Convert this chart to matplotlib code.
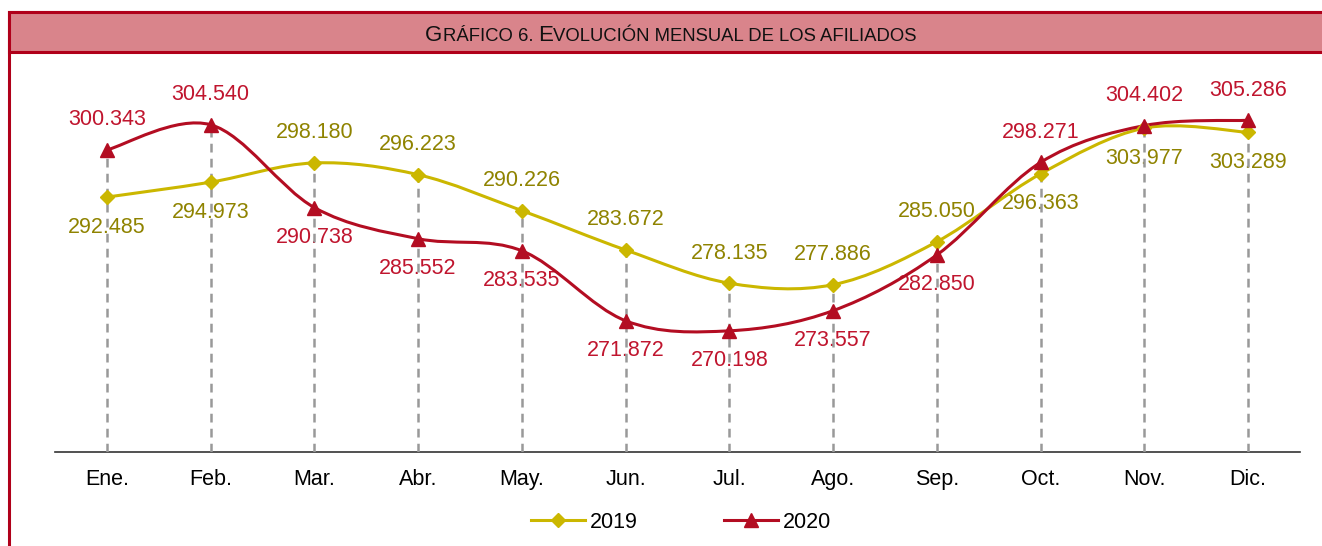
import numpy as np
import matplotlib
matplotlib.use("Agg")
import matplotlib.pyplot as plt
from matplotlib.path import Path
from matplotlib.patches import PathPatch, Rectangle
from matplotlib.lines import Line2D

plt.rcParams['font.family'] = ['Liberation Sans', 'DejaVu Sans']

# data
months = ["Ene.", "Feb.", "Mar.", "Abr.", "May.", "Jun.", "Jul.", "Ago.",
          "Sep.", "Oct.", "Nov.", "Dic."]
afil_2019 = [292485, 294973, 298180, 296223, 290226, 283672, 278135, 277886,
             285050, 296363, 303977, 303289]
afil_2020 = [300343, 304540, 290738, 285552, 283535, 271872, 270198, 273557,
             282850, 298271, 304402, 305286]
# label above (+1) or below (-1) the point
side_2019 = [-1, -1, 1, 1, 1, 1, 1, 1, 1, -1, -1, -1]
side_2020 = [1, 1, -1, -1, -1, -1, -1, -1, -1, 1, 1, 1]

c19 = "#CBB700"
c19_txt = "#8F8300"
c20 = "#B30D22"
c20_txt = "#C0152E"
frame_red = "#B0001A"
fs = 15.5


def fmt(v):
    return f"{v:,}".replace(",", ".")


def smooth_path(x, y, t=1 / 6):
    # Catmull-Rom style bezier, like the smoothed lines in Excel
    x = np.asarray(x, float)
    y = np.asarray(y, float)
    verts = [(x[0], y[0])]
    codes = [Path.MOVETO]
    n = len(x)
    for i in range(n - 1):
        p0 = i - 1 if i > 0 else i
        p3 = i + 2 if i + 2 < n else i + 1
        c1 = (x[i] + (x[i + 1] - x[p0]) * t, y[i] + (y[i + 1] - y[p0]) * t)
        c2 = (x[i + 1] - (x[p3] - x[i]) * t, y[i + 1] - (y[p3] - y[i]) * t)
        verts += [c1, c2, (x[i + 1], y[i + 1])]
        codes += [Path.CURVE4] * 3
    return Path(verts, codes)


W, H = 1322, 546
fig = plt.figure(figsize=(W / 100, H / 100), dpi=100)
ax = fig.add_axes([55 / W, 1 - 452 / H, (1300 - 55) / W, (452 - 92) / H])

xs = np.arange(len(months))

# drop lines
top = np.maximum(afil_2019, afil_2020)
ax.vlines(xs, 250000, top, colors="#999999", linestyles=(0, (3.5, 2.5)),
          linewidth=1.8, zorder=4)

for vals, col, mk, ms in [(afil_2019, c19, "D", 7), (afil_2020, c20, "^", 10)]:
    ax.add_patch(PathPatch(smooth_path(xs, vals), facecolor="none",
                           edgecolor=col, linewidth=2.2, zorder=5))
    ax.plot(xs, vals, linestyle="none", marker=mk, markersize=ms,
            color=col, zorder=6)

for vals, side, col in [(afil_2019, side_2019, c19_txt), (afil_2020, side_2020, c20_txt)]:
    for i, v in enumerate(vals):
        ax.annotate(fmt(v), (i, v), xytext=(0, 30 * side[i]), textcoords="offset pixels",
                    ha="center", va="center", fontsize=fs, color=col, zorder=3)

ax.set_xlim(-0.5, 11.5)
ax.set_ylim(250000, 310000)
ax.set_xticks(xs)
ax.set_xticklabels(months, fontsize=fs)
ax.tick_params(axis="x", length=0, pad=12)
ax.set_yticks([])
for s in ["top", "right", "left"]:
    ax.spines[s].set_visible(False)
ax.spines["bottom"].set_color("#333333")
ax.spines["bottom"].set_linewidth(1.2)

handles = [Line2D([], [], color=c19, marker="D", markersize=7, linewidth=2.2),
           Line2D([], [], color=c20, marker="^", markersize=10, linewidth=2.2)]
fig.legend(handles, ["2019", "2020"], loc="center", bbox_to_anchor=(681 / W, 1 - 522 / H),
           ncol=2, frameon=False, fontsize=fs, handlelength=2.5,
           columnspacing=4.0, handletextpad=0.25)

# frame and title band
fig.patches.append(Rectangle((9 / W, -0.1), 1.2, 1 - 12 / H + 0.1,
                             transform=fig.transFigure, facecolor="none",
                             edgecolor=frame_red, linewidth=2.2, zorder=0))
fig.patches.append(Rectangle((9 / W, 1 - 52 / H), 1.2, 40 / H,
                             transform=fig.transFigure, facecolor="#D9848B",
                             edgecolor=frame_red, linewidth=2.2, zorder=1))

# title in small caps
pieces = [("G", 16), ("RÁFICO 6. ", 13.3), ("E", 16),
          ("VOLUCIÓN MENSUAL DE LOS AFILIADOS", 13.3)]
renderer = fig.canvas.get_renderer()
texts = []
for s, size in pieces:
    texts.append(fig.text(0, 1 - 41 / H, s, fontsize=size, color="#111111",
                          ha="left", va="baseline"))
widths = [t.get_window_extent(renderer).width for t in texts]
x0 = 671 - sum(widths) / 2
for t, w in zip(texts, widths):
    t.set_x(x0 / W)
    x0 += w

fig.savefig("out.png", dpi=100)
